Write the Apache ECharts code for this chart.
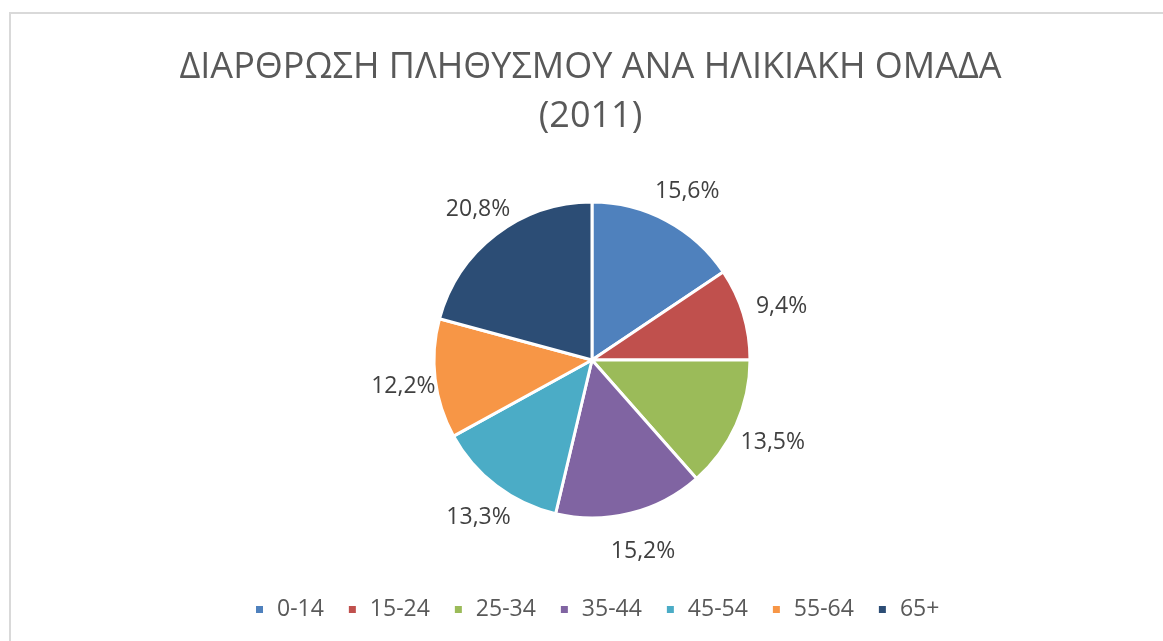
<!DOCTYPE html>
<html>
<head>
<meta charset="utf-8">
<script src="https://cdn.jsdelivr.net/npm/echarts@6/dist/echarts.min.js"></script>
<style>
  html, body { margin: 0; padding: 0; background: #fff; overflow: hidden; }
  #frame { position: absolute; left: 9px; top: 12px; width: 1200px; height: 700px; border: 2px solid #d9d9d9; }
  #chart { position: absolute; left: 9px; top: 0; width: 1163px; height: 641px; }
</style>
</head>
<body>
<div id="frame"></div>
<div id="chart"></div>
<script>
// age groups and share of population (%)
const groups = ['0-14', '15-24', '25-34', '35-44', '45-54', '55-64', '65+'];
const shares = [15.6, 9.4, 13.5, 15.2, 13.3, 12.2, 20.8];
const colors = ['#4F81BD', '#C0504D', '#9BBB59', '#8064A2', '#4BACC6', '#F79646', '#2C4D75'];

const font = '"Open Sans", "Noto Sans", sans-serif';
const pieData = groups.map((g, i) => ({ name: g, value: shares[i] }));

const chart = echarts.init(document.getElementById('chart'));
chart.setOption({
    color: colors,
    animation: false,
    title: {
        text: 'ΔΙΑΡΘΡΩΣΗ ΠΛΗΘΥΣΜΟΥ ΑΝΑ ΗΛΙΚΙΑΚΗ ΟΜΑΔΑ\n(2011)',
        left: 'center',
        top: 38,
        textStyle: { fontFamily: font, fontSize: 36, fontWeight: 'normal', color: '#595959', lineHeight: 49 }
    },
    legend: {
        left: 240,
        top: 593,
        icon: 'rect',
        itemWidth: 9,
        itemHeight: 9,
        itemGap: 23,
        textStyle: { fontFamily: font, fontSize: 23, color: '#595959', padding: [0, 0, 0, 8] },
        data: groups
    },
    series: [
        {
            type: 'pie',
            center: [583, 360],
            radius: 158,
            startAngle: 90,
            itemStyle: { borderColor: '#fff', borderWidth: 3 },
            label: { show: false },
            labelLine: { show: false },
            emphasis: { disabled: true },
            data: pieData
        },
        {
            // transparent ring, only used to place the data labels around the pie
            type: 'pie',
            center: [587, 363],
            radius: [170, 212],
            startAngle: 90,
            silent: true,
            itemStyle: { color: 'transparent' },
            label: {
                show: true,
                position: 'inside',
                fontFamily: font,
                fontSize: 23,
                color: '#404040',
                formatter: p => p.value.toFixed(1).replace('.', ',') + '%'
            },
            labelLine: { show: false },
            emphasis: { disabled: true },
            data: pieData
        }
    ]
});
</script>
</body>
</html>
